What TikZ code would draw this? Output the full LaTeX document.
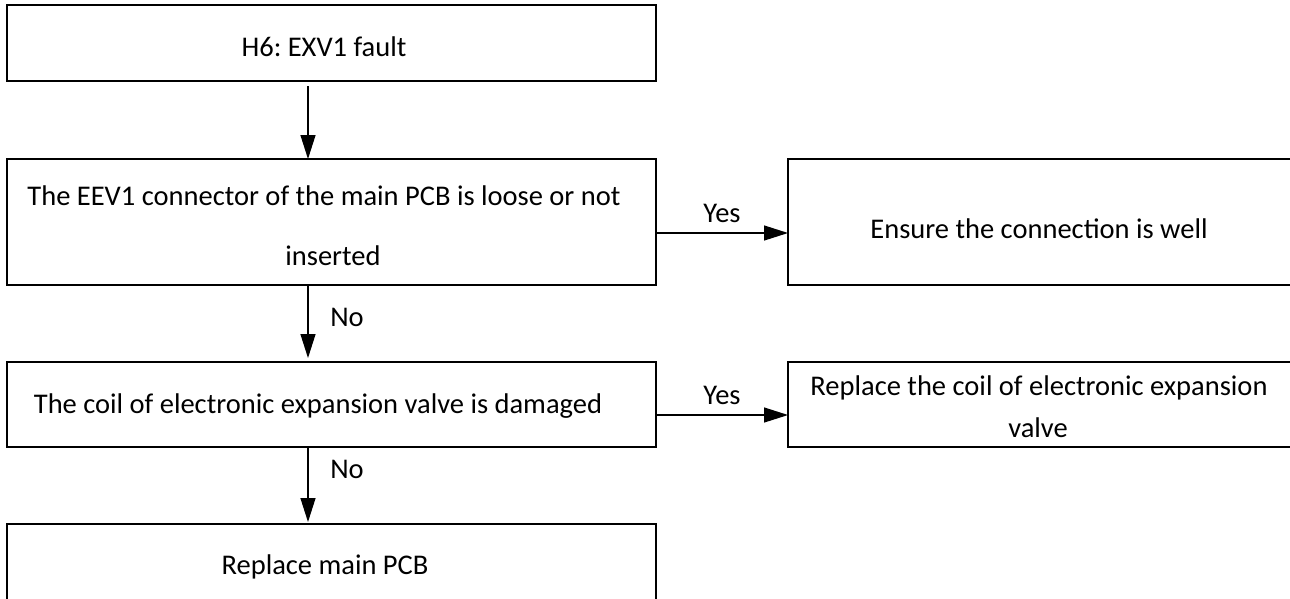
\documentclass[tikz,border=0pt]{standalone}
\usepackage{fontspec}
\setmainfont{Carlito}
\frenchspacing
\usetikzlibrary{arrows.meta}
\begin{document}
\begin{tikzpicture}[x=1pt,y=-1pt,
  box/.style={draw=black, line width=1.7pt, rectangle, inner sep=0pt, outer sep=0pt, anchor=north west},
  txt/.style={anchor=base, inner sep=0pt, font=\fontsize{28.5}{34}\selectfont},
  arr/.style={line width=1.3pt, -{Triangle[length=24pt,width=15pt]}}]
\useasboundingbox (0,0) rectangle (1290,598);
\clip (0,0) rectangle (1290,598);
% boxes
\node[box, minimum width=649pt, minimum height=76pt]  (b1) at (7,5) {};
\node[box, minimum width=649pt, minimum height=126pt] (b2) at (7,159) {};
\node[box, minimum width=506pt, minimum height=126pt] (b3) at (788,159) {};
\node[box, minimum width=649pt, minimum height=85pt]  (b4) at (7,362) {};
\node[box, minimum width=506pt, minimum height=85pt]  (b5) at (788,362) {};
\node[box, minimum width=649pt, minimum height=90pt]  (b6) at (7,524) {};
% texts
\node[txt] (t1)  at (324,56)  {H6: EXV1 fault};
\node[txt] (t2a) at (324,205) {The EEV1 connector of the main PCB is loose or not};
\node[txt] (t2b) at (333,265) {inserted};
\node[txt] (t3)  at (1039,238) {Ensure the connection is well};
\node[txt] (t4)  at (318,413) {The coil of electronic expansion valve is damaged};
\node[txt] (t5a) at (1039,395) {Replace the coil of electronic expansion};
\node[txt] (t5b) at (1038,437) {valve};
\node[txt] (t6)  at (325,574) {Replace main PCB};
% connectors
\coordinate (ax) at (308,0);
\coordinate (ya) at (0,233);
\coordinate (yb) at (0,415);
\draw[arr, shorten <=5pt] (b1.south -| ax) -- (b2.north -| ax);
\draw[arr, shorten >=4pt] (b2.south -| ax) -- (b4.north -| ax);
\draw[arr, shorten >=2pt] (b4.south -| ax) -- (b6.north -| ax);
\draw[arr] (b2.east |- ya) -- (b3.west |- ya);
\draw[arr] (b4.east |- yb) -- (b5.west |- yb);
% labels
\node[txt] (yes1) at (722,222) {Yes};
\node[txt] (yes2) at (722,404) {Yes};
\node[txt] (no1)  at (347,326) {No};
\node[txt] (no2)  at (347,478) {No};
\end{tikzpicture}
\end{document}
